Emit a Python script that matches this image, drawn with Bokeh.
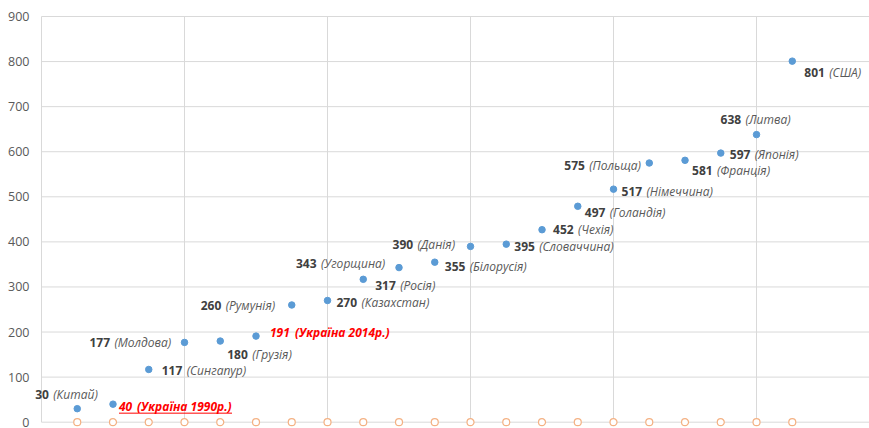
from bokeh.plotting import figure
from bokeh.models import ColumnDataSource, Range1d
from bokeh.core.properties import value
from bokeh.embed import file_html
from bokeh.resources import INLINE

# ---- data ----
x_pos = list(range(1, 22))
values = [30, 40, 117, 177, 180, 191, 260, 270, 317, 343, 355, 390, 395,
          427, 479, 517, 575, 581, 597, 638, 801]
label_nums = ["30", "40", "117", "177", "180", "191", "260", "270", "317", "343",
              "355", "390", "395", "452", "497", "517", "575", "581", "597", "638", "801"]
countries = ["(Китай)", "(Україна 1990р.)", "(Сингапур)", "(Молдова)", "(Грузія)",
             "(Україна 2014р.)", "(Румунія)", "(Казахстан)", "(Росія)", "(Угорщина)",
             "(Білорусія)", "(Данія)", "(Словаччина)", "(Чехія)", "(Голандія)",
             "(Німеччина)", "(Польща)", "(Франція)", "(Японія)", "(Литва)", "(США)"]
highlight = [False, True, False, False, False, True] + [False] * 15
baseline = [0] * 21
y_ticks = [0, 100, 200, 300, 400, 500, 600, 700, 800, 900]
y_tick_labels = [str(t) for t in y_ticks]
x_grid = [0, 4, 8, 12, 16, 20]

# ---- label placement (pixels relative to each point; dy positive = down) ----
dx = [-42, 6, 13, -95, 7, 14, -91, 9, 12, -103, 10, -78, 8, 11, 7, 8, -85, 7, 9, -36, 12]
dy = [-14, 2, 1, 0, 13, -4, 1, 2, 6, -4, 4, -2, 2, 0, 6, 2, 2, 10, 1, -15, 11]

FONT = "Open Sans"
FS = 12
W, H = 869, 428
PLOT_LEFT, PLOT_TOP, ZERO_Y = 41, 16, 421.7   # pixel geometry of the plot area
PXS = (W - PLOT_LEFT) / 23.16                  # px per x unit
PYS = (ZERO_Y - PLOT_TOP) / 900                # px per y unit
X0, X1 = -PLOT_LEFT / PXS, (W - PLOT_LEFT) / PXS
Y0, Y1 = -(H - ZERO_Y) / PYS, 900 + PLOT_TOP / PYS

num_w = [0.58 * FS * len(n) + 4 for n in label_nums]
cty_x_off = [d + w for d, w in zip(dx, num_w)]
num_color = ["#FF0000" if h else "#404040" for h in highlight]
cty_color = ["#FF0000" if h else "#595959" for h in highlight]
num_style = ["bold italic" if h else "bold" for h in highlight]
cty_style = ["bold italic" if h else "italic" for h in highlight]

src = ColumnDataSource(dict(x=x_pos, y=values, num=label_nums, cty=countries,
                            ndx=dx, cdx=cty_x_off, dy=dy,
                            nc=num_color, cc=cty_color, ns=num_style, cs=cty_style))

p = figure(width=W, height=H, output_backend="svg", toolbar_location=None,
           x_range=Range1d(X0, X1), y_range=Range1d(Y0, Y1),
           min_border=0)
p.outline_line_color = None
p.background_fill_color = "white"
p.border_fill_color = "white"
p.xaxis.visible = False
p.yaxis.visible = False
p.xgrid.visible = False
p.ygrid.visible = False

# gridlines (plot area from x=0, y=0..900)
p.segment(x0=[0] * len(y_ticks), y0=y_ticks, x1=[X1] * len(y_ticks), y1=y_ticks,
          line_color="#D9D9D9", line_width=1)
p.segment(x0=x_grid, y0=[0] * len(x_grid), x1=x_grid, y1=[900] * len(x_grid),
          line_color="#D9D9D9", line_width=1)

# y tick labels
p.text(x=[0] * len(y_ticks), y=y_ticks, text=y_tick_labels, x_offset=-12,
       text_font=value(FONT), text_font_size="12.5px", text_color="#595959",
       text_align="right", text_baseline="middle")

# baseline hollow markers
p.scatter(x_pos, baseline, size=7, fill_color="white", line_color="#F4B183", line_width=1.2)
# data points
p.scatter("x", "y", source=src, size=6.5, color="#5B9BD5")

# labels: bold number + italic country
p.text(x="x", y="y", text="num", x_offset="ndx", y_offset="dy", source=src,
       text_font=value(FONT), text_font_size=f"{FS}px", text_font_style="ns",
       text_color="nc", text_baseline="middle", text_align="left")
p.text(x="x", y="y", text="cty", x_offset="cdx", y_offset="dy", source=src,
       text_font=value(FONT), text_font_size=f"{FS}px", text_font_style="cs",
       text_color="cc", text_baseline="middle", text_align="left")

# underline of the 1990 label
i = 1
ux0 = x_pos[i] + dx[i] / PXS
ux1 = ux0 + 113 / PXS
uy = values[i] - (dy[i] + 7) / PYS
p.segment(x0=[ux0], y0=[uy], x1=[ux1], y1=[uy], line_color="#FF0000", line_width=1)

open("out.html", "w").write(file_html(p, INLINE))
